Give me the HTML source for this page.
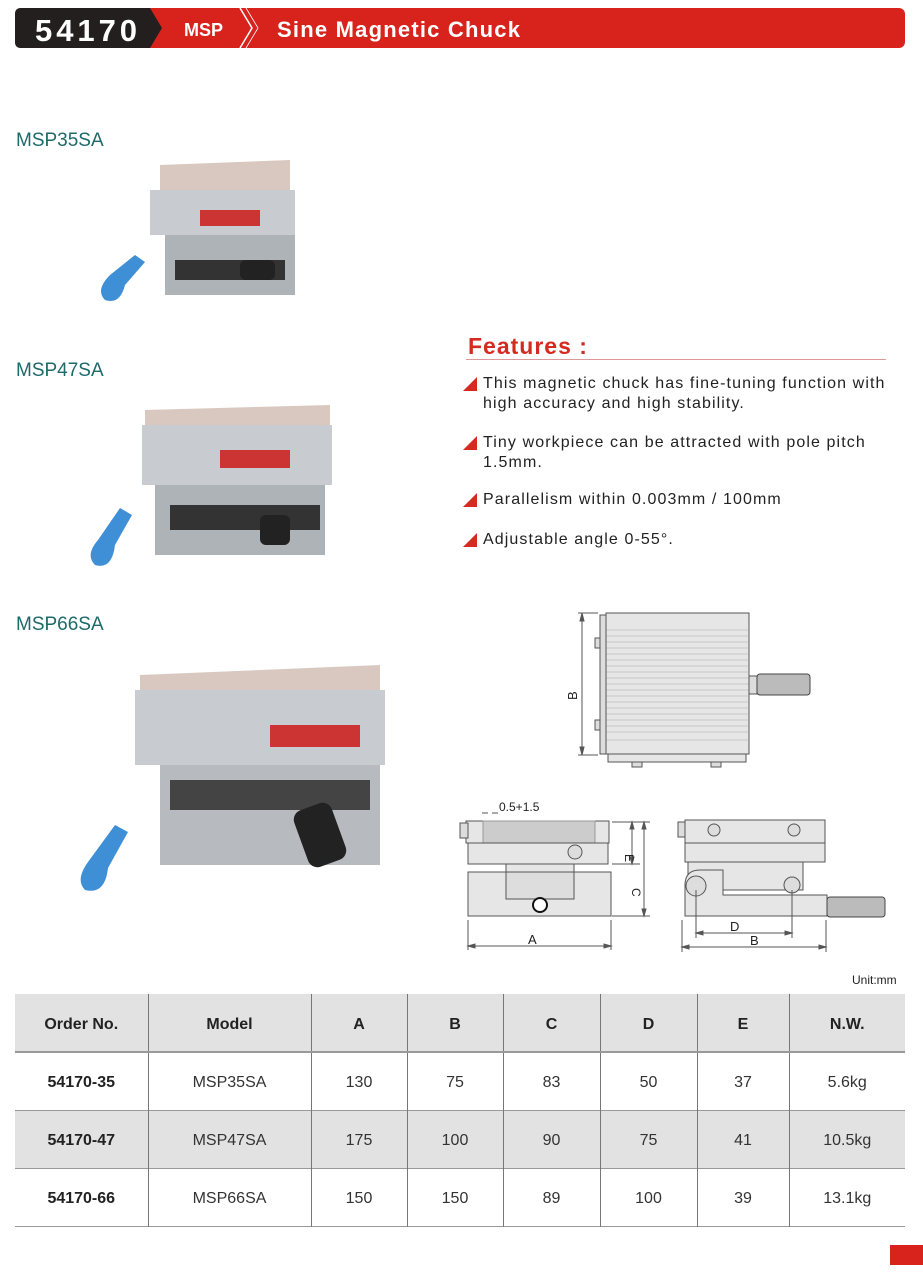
<!DOCTYPE html>
<html><head><meta charset="utf-8"><style>
*{margin:0;padding:0;box-sizing:border-box}
body{width:923px;height:1272px;background:#fff;position:relative;font-family:"Liberation Sans",Arial,sans-serif;overflow:hidden}
.abs{position:absolute}
.model{position:absolute;left:16px;font-size:19px;color:#1e6a6a}
.feat{position:absolute;left:464px;font-size:16px;color:#222;line-height:20px;letter-spacing:1.1px}
.feat:before{content:"";position:absolute;left:-1px;top:3px;border-left:14px solid transparent;border-bottom:14px solid #d42a20;}
.feat span{display:block;padding-left:19px}
table{position:absolute;left:15px;top:994px;width:890px;border-collapse:collapse;font-size:16px;color:#333}
td{text-align:center;border-left:1px solid #777;height:58px;padding-top:4px}
td:first-child{border-left:none;font-weight:bold;color:#222}
tr.h td{background:#e2e2e2;font-weight:bold;color:#222;height:58px;border-bottom:2px solid #999}
tr.g td{background:#e2e2e2}
tr{border-bottom:1px solid #999}
</style></head><body>
<svg class="abs" style="left:0;top:0" width="923" height="60">
<rect x="15" y="8" width="890" height="40" rx="6" fill="#d8231c"/>
<path d="M21 8 H150 L162 28 L150 48 H21 Q15 48 15 42 V14 Q15 8 21 8Z" fill="#231f1f"/>
<polyline points="240,8 252,28 240,48" fill="none" stroke="#fff" stroke-width="1.5"/>
<polyline points="246,8 258,28 246,48" fill="none" stroke="#fff" stroke-width="0.8"/>
<text x="35" y="41" font-family="Liberation Sans" font-weight="bold" font-size="31" fill="#fff" textLength="102">54170</text>
<text x="184" y="36" font-family="Liberation Sans" font-weight="bold" font-size="18" fill="#fff">MSP</text>
<text x="277" y="37" font-family="Liberation Sans" font-weight="bold" font-size="22" fill="#fff" textLength="243">Sine Magnetic Chuck</text>
</svg>

<div class="model" style="top:130px">MSP35SA</div>
<div class="model" style="top:360px">MSP47SA</div>
<div class="model" style="top:614px">MSP66SA</div>

<!-- photos -->
<svg class="abs" style="left:90px;top:150px" width="220" height="170">
<polygon points="70,15 200,10 200,60 70,70" fill="#d9c8c0"/>
<rect x="60" y="40" width="145" height="45" fill="#c8ccd0"/>
<rect x="110" y="60" width="60" height="16" fill="#c33"/>
<rect x="75" y="85" width="130" height="60" fill="#aeb3b8"/>
<rect x="85" y="110" width="110" height="20" fill="#333"/>
<rect x="150" y="110" width="35" height="20" rx="6" fill="#222"/>
<path d="M15 150 Q5 140 20 125 L45 105 L55 112 L35 135 Q30 155 15 150Z" fill="#3f8fd6"/>
</svg>
<svg class="abs" style="left:80px;top:380px" width="280" height="200">
<polygon points="65,30 250,25 250,80 65,90" fill="#d9c8c0"/>
<rect x="62" y="45" width="190" height="60" fill="#c8ccd0"/>
<rect x="140" y="70" width="70" height="18" fill="#c33"/>
<rect x="75" y="105" width="170" height="70" fill="#aeb3b8"/>
<rect x="90" y="125" width="150" height="25" fill="#333"/>
<rect x="180" y="135" width="30" height="30" rx="6" fill="#222"/>
<path d="M15 185 Q5 175 18 160 L40 128 L52 135 L35 165 Q32 190 15 185Z" fill="#3f8fd6"/>
</svg>
<svg class="abs" style="left:70px;top:640px" width="330" height="260">
<polygon points="70,35 310,25 310,90 70,100" fill="#d9c8c0"/>
<rect x="65" y="50" width="250" height="75" fill="#c8ccd0"/>
<rect x="200" y="85" width="90" height="22" fill="#c33"/>
<rect x="90" y="125" width="220" height="100" fill="#b7bbbf"/>
<rect x="100" y="140" width="200" height="30" fill="#444"/>
<rect x="230" y="165" width="40" height="60" rx="10" fill="#222" transform="rotate(-20 250 195)"/>
<path d="M15 250 Q5 240 18 222 L45 185 L58 192 L38 228 Q35 255 15 250Z" fill="#3f8fd6"/>
</svg>

<!-- features -->
<div class="abs" style="left:468px;top:333px;font-size:23px;font-weight:bold;color:#d42a20;letter-spacing:1px">Features :</div>
<div class="abs" style="left:466px;top:359px;width:420px;height:1px;background:#d99"></div>
<div class="feat" style="top:374px"><span>This magnetic chuck has fine-tuning function with<br>high accuracy and high stability.</span></div>
<div class="feat" style="top:433px"><span>Tiny workpiece can be attracted with pole pitch<br>1.5mm.</span></div>
<div class="feat" style="top:490px"><span>Parallelism within 0.003mm / 100mm</span></div>
<div class="feat" style="top:530px"><span>Adjustable angle 0-55°.</span></div>

<!-- drawings -->
<svg class="abs" style="left:440px;top:600px" width="483" height="360" font-family="Liberation Sans" font-size="12" fill="none" stroke="#555" stroke-width="1">
<rect x="166" y="13" width="143" height="141" fill="#e6e6e6"/>
<g stroke="#aaa" stroke-width="0.6">
<line x1="166" y1="30" x2="309" y2="30"/><line x1="166" y1="36" x2="309" y2="36"/><line x1="166" y1="42" x2="309" y2="42"/><line x1="166" y1="48" x2="309" y2="48"/><line x1="166" y1="54" x2="309" y2="54"/><line x1="166" y1="60" x2="309" y2="60"/><line x1="166" y1="66" x2="309" y2="66"/><line x1="166" y1="72" x2="309" y2="72"/><line x1="166" y1="78" x2="309" y2="78"/><line x1="166" y1="84" x2="309" y2="84"/><line x1="166" y1="90" x2="309" y2="90"/><line x1="166" y1="96" x2="309" y2="96"/><line x1="166" y1="102" x2="309" y2="102"/><line x1="166" y1="108" x2="309" y2="108"/><line x1="166" y1="114" x2="309" y2="114"/><line x1="166" y1="120" x2="309" y2="120"/><line x1="166" y1="126" x2="309" y2="126"/><line x1="166" y1="132" x2="309" y2="132"/><line x1="166" y1="140" x2="309" y2="140"/>
</g>
<rect x="160" y="15" width="6" height="139" fill="#ddd"/>
<rect x="155" y="38" width="5" height="10" fill="#ddd"/><rect x="155" y="120" width="5" height="10" fill="#ddd"/>
<rect x="168" y="154" width="138" height="8" fill="#e6e6e6"/>
<rect x="192" y="162" width="10" height="5" fill="#ddd"/><rect x="271" y="162" width="10" height="5" fill="#ddd"/>
<rect x="309" y="76" width="8" height="18" fill="#ddd"/>
<rect x="317" y="74" width="53" height="21" rx="3" fill="#bbb" stroke="#444"/>
<line x1="138" y1="13" x2="158" y2="13"/><line x1="138" y1="155" x2="158" y2="155"/>
<line x1="142" y1="13" x2="142" y2="155"/>
<path d="M142 13 l-2 8 h4z M142 155 l-2 -8 h4z" fill="#555"/>
<text x="137" y="100" fill="#222" stroke="none" font-size="13" transform="rotate(-90 137 100)">B</text>
<rect x="26" y="221" width="143" height="22" fill="#e6e6e6"/>
<rect x="43" y="221" width="112" height="22" fill="#ccc" stroke="#999"/>
<rect x="20" y="223" width="8" height="15" fill="#ddd"/>
<rect x="28" y="243" width="140" height="21" fill="#e6e6e6"/>
<circle cx="135" cy="252" r="7" fill="#ddd"/>
<rect x="66" y="264" width="68" height="10" fill="#e6e6e6"/>
<rect x="28" y="272" width="143" height="44" fill="#e6e6e6"/>
<rect x="66" y="272" width="68" height="27" fill="#ddd"/>
<circle cx="100" cy="305" r="7" fill="#fff" stroke="#111" stroke-width="2"/>
<line x1="42" y1="213" x2="48" y2="213"/><line x1="52" y1="213" x2="58" y2="213"/>
<text x="59" y="211" fill="#222" stroke="none">0.5+1.5</text>
<line x1="172" y1="222" x2="210" y2="222"/><line x1="172" y1="316" x2="210" y2="316"/><line x1="172" y1="264" x2="200" y2="264"/>
<line x1="192" y1="222" x2="192" y2="264"/><line x1="204" y1="222" x2="204" y2="316"/>
<path d="M192 222 l-2 7 h4z M192 264 l-2 -7 h4z M204 222 l-2 7 h4z M204 316 l-2 -7 h4z" fill="#555"/>
<text x="188" y="241" fill="#222" stroke="none" transform="rotate(90 180 246)">E</text>
<text x="198" y="282" fill="#222" stroke="none" transform="rotate(90 192 282)">C</text>
<line x1="28" y1="320" x2="28" y2="350"/><line x1="171" y1="320" x2="171" y2="350"/>
<line x1="28" y1="346" x2="171" y2="346"/>
<path d="M28 346 l7 -2 v4z M171 346 l-7 -2 v4z" fill="#555"/>
<text x="88" y="344" fill="#222" stroke="none" font-size="13">A</text>
<rect x="245" y="220" width="140" height="42" fill="#e6e6e6"/>
<line x1="245" y1="243" x2="385" y2="243"/>
<circle cx="274" cy="230" r="6" fill="#ddd"/><circle cx="354" cy="230" r="6" fill="#ddd"/>
<rect x="238" y="222" width="7" height="15" fill="#ddd"/>
<rect x="248" y="262" width="115" height="28" fill="#e6e6e6"/>
<path d="M245 285 Q245 270 260 270 H283 V295 H387 V316 H245Z" fill="#e6e6e6"/>
<circle cx="256" cy="286" r="10" fill="#ddd"/><circle cx="352" cy="285" r="8" fill="#ddd"/>
<rect x="387" y="297" width="58" height="20" rx="3" fill="#bbb" stroke="#444"/>
<line x1="256" y1="290" x2="256" y2="338"/><line x1="352" y1="290" x2="352" y2="338"/>
<line x1="256" y1="333" x2="352" y2="333"/>
<path d="M256 333 l7 -2 v4z M352 333 l-7 -2 v4z" fill="#555"/>
<text x="290" y="331" fill="#222" stroke="none" font-size="13">D</text>
<line x1="242" y1="320" x2="242" y2="352"/><line x1="386" y1="320" x2="386" y2="352"/>
<line x1="242" y1="347" x2="386" y2="347"/>
<path d="M242 347 l7 -2 v4z M386 347 l-7 -2 v4z" fill="#555"/>
<text x="310" y="345" fill="#222" stroke="none" font-size="13">B</text>
</svg>

<div class="abs" style="left:852px;top:973px;font-size:12px;color:#222">Unit:mm</div>

<table>
<colgroup><col style="width:133px"><col style="width:163px"><col style="width:96px"><col style="width:96px"><col style="width:97px"><col style="width:97px"><col style="width:92px"><col style="width:116px"></colgroup>
<tr class="h"><td>Order No.</td><td>Model</td><td>A</td><td>B</td><td>C</td><td>D</td><td>E</td><td>N.W.</td></tr>
<tr><td>54170-35</td><td>MSP35SA</td><td>130</td><td>75</td><td>83</td><td>50</td><td>37</td><td>5.6kg</td></tr>
<tr class="g"><td>54170-47</td><td>MSP47SA</td><td>175</td><td>100</td><td>90</td><td>75</td><td>41</td><td>10.5kg</td></tr>
<tr><td>54170-66</td><td>MSP66SA</td><td>150</td><td>150</td><td>89</td><td>100</td><td>39</td><td>13.1kg</td></tr>
</table>
<div class="abs" style="left:890px;top:1245px;width:33px;height:20px;background:#d8231c"></div>
</body></html>
